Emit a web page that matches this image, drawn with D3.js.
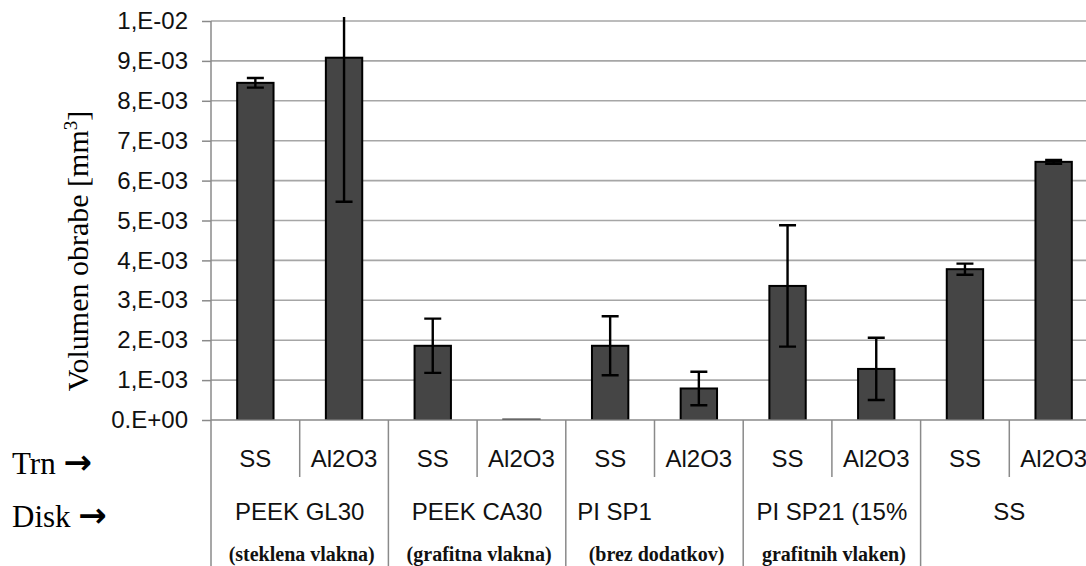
<!DOCTYPE html>
<meta charset="utf-8">
<title>Volumen obrabe</title>
<style>
body { margin: 0; background: #fff; }
.grid line { stroke: #a6a6a6; stroke-width: 1.6; }
.axisline { stroke: #8a8a8a; stroke-width: 1.5; }
.bar { fill: #454545; stroke: #000; stroke-width: 2; }
.err { stroke: #000; stroke-width: 2.4; fill: none; }
.lab { font-family: "Liberation Sans", Arial, sans-serif; font-size: 24px; fill: #111; }
.note { font-family: "Liberation Serif", "Times New Roman", serif; font-weight: bold; font-size: 20px; fill: #111; }
.serif { font-family: "Liberation Serif", "Times New Roman", serif; fill: #000; }
</style>
<body>
<script src="https://cdn.jsdelivr.net/npm/d3@7"></script>
<script>

// data
var trn = ["SS","Al2O3","SS","Al2O3","SS","Al2O3","SS","Al2O3","SS","Al2O3"];
var disk = ["PEEK GL30","PEEK CA30","PI SP1\u00a0\u00a0\u00a0\u00a0\u00a0\u00a0\u00a0\u00a0\u00a0\u00a0\u00a0\u00a0","PI SP21 (15%","SS"];
var diskNote = ["(steklena vlakna)","(grafitna vlakna)","(brez dodatkov)","grafitnih vlaken)",""];
var vol = [0.00845,0.00908,0.00186,0.00001,0.00186,0.00079,0.00336,0.00128,0.00378,0.00647];
var err = [0.00012,0.00361,0.00068,0,0.00074,0.00042,0.00152,0.00078,0.00014,0.00005];
var yTickVals = [0,0.001,0.002,0.003,0.004,0.005,0.006,0.007,0.008,0.009,0.01];
var yTickLabels = ["0.E+00","1,E-03","2,E-03","3,E-03","4,E-03","5,E-03","6,E-03","7,E-03","8,E-03","9,E-03","1,E-02"];

var width = 1086, height = 566;
var x0 = 211, x1 = 1098, y0 = 420, y1 = 21;

var svg = d3.select("body").append("svg")
    .attr("width", width)
    .attr("height", height);

svg.append("rect").attr("width", width).attr("height", height).attr("fill", "#fff");

var x = d3.scaleBand()
    .domain(d3.range(trn.length))
    .range([x0, x1])
    .padding(0);
var bw = x.bandwidth();
var barW = bw * 0.41;

var y = d3.scaleLinear()
    .domain([0, 0.01])
    .range([y0, y1]);

svg.append("clipPath").attr("id", "plot")
  .append("rect").attr("x", x0).attr("y", y1 - 4).attr("width", x1 - x0).attr("height", y0 - y1 + 4);

// gridlines
svg.append("g").attr("class", "grid")
  .selectAll("line")
  .data(yTickVals.slice(1))
  .enter().append("line")
    .attr("x1", x0).attr("x2", width)
    .attr("y1", function(d) { return y(d); })
    .attr("y2", function(d) { return y(d); });

// y axis
var yAxis = d3.axisLeft(y)
    .tickValues(yTickVals)
    .tickSize(9)
    .tickPadding(14)
    .tickFormat(function(d, i) { return yTickLabels[i]; });
var ga = svg.append("g")
    .attr("transform", "translate(" + x0 + ",0)")
    .call(yAxis);
ga.select(".domain").remove();
ga.selectAll(".tick line").attr("stroke", "#8a8a8a").attr("stroke-width", 1.5);
ga.selectAll(".tick text").attr("class", "lab").attr("fill", "#111").style("font-size", "24px")
    .style("font-family", "'Liberation Sans', Arial, sans-serif");

// bars
var plot = svg.append("g").attr("clip-path", "url(#plot)");
plot.selectAll("rect.bar")
  .data(vol)
  .enter().append("rect")
    .attr("class", "bar")
    .attr("x", function(d, i) { return x(i) + bw / 2 - barW / 2; })
    .attr("y", function(d) { return y(d); })
    .attr("width", barW)
    .attr("height", function(d) { return y0 - y(d); });

// error bars
var capW = 17;
plot.selectAll("path.err")
  .data(vol)
  .enter().append("path")
    .attr("class", "err")
    .attr("d", function(d, i) {
      if (err[i] <= 0) return null;
      var cx = x(i) + bw / 2, t = y(d + err[i]), b = y(d - err[i]);
      return "M" + cx + "," + t + "V" + b +
             "M" + (cx - capW / 2) + "," + t + "H" + (cx + capW / 2) +
             "M" + (cx - capW / 2) + "," + b + "H" + (cx + capW / 2);
    });

// axis lines
svg.append("line").attr("class", "axisline")
    .attr("x1", x0).attr("x2", width).attr("y1", y0).attr("y2", y0);
svg.append("line").attr("class", "axisline")
    .attr("x1", x0).attr("x2", x0).attr("y1", y1).attr("y2", height);

// category separators
svg.selectAll("line.sep")
  .data(d3.range(1, trn.length + 1))
  .enter().append("line")
    .attr("class", "axisline")
    .attr("x1", function(d) { return x0 + d * bw; })
    .attr("x2", function(d) { return x0 + d * bw; })
    .attr("y1", y0)
    .attr("y2", function(d) { return d % 2 == 0 ? height : 477; });

// tier 1 labels
svg.selectAll("text.trn")
  .data(trn)
  .enter().append("text")
    .attr("class", "lab")
    .attr("x", function(d, i) { return x(i) + bw / 2; })
    .attr("y", 467)
    .attr("text-anchor", "middle")
    .text(function(d) { return d; });

// tier 2 labels
svg.selectAll("text.disk")
  .data(disk)
  .enter().append("text")
    .attr("class", "lab")
    .attr("x", function(d, i) { return x(2 * i) + bw; })
    .attr("y", 520)
    .attr("text-anchor", "middle")
    .style("white-space", "pre")
    .text(function(d) { return d; });

// tier 3 notes
svg.selectAll("text.note")
  .data(diskNote)
  .enter().append("text")
    .attr("class", "note")
    .attr("x", function(d, i) { return x(2 * i) + bw + 2; })
    .attr("y", 561)
    .attr("text-anchor", "middle")
    .text(function(d) { return d; });

// y title
var yt = svg.append("text")
    .attr("class", "serif")
    .attr("transform", "translate(88,251) rotate(-90)")
    .attr("text-anchor", "middle")
    .style("font-family", "'Liberation Serif', 'Times New Roman', serif")
    .style("font-size", "30px");
yt.append("tspan").text("Volumen obrabe [mm");
yt.append("tspan").attr("dy", -11).style("font-size", "19px").text("3");
yt.append("tspan").attr("dy", 11).text("]");

// row captions
var caps = [["Trn", 474], ["Disk", 527]];
caps.forEach(function(c) {
  var t = svg.append("text").attr("class", "serif")
      .attr("x", 12).attr("y", c[1]).style("font-size", "31px");
  t.append("tspan").text(c[0] + " ");
  t.append("tspan").style("font-family", "'DejaVu Sans', sans-serif")
      .style("font-weight", "bold").style("font-size", "34px").text("\u2192");
});

</script>
